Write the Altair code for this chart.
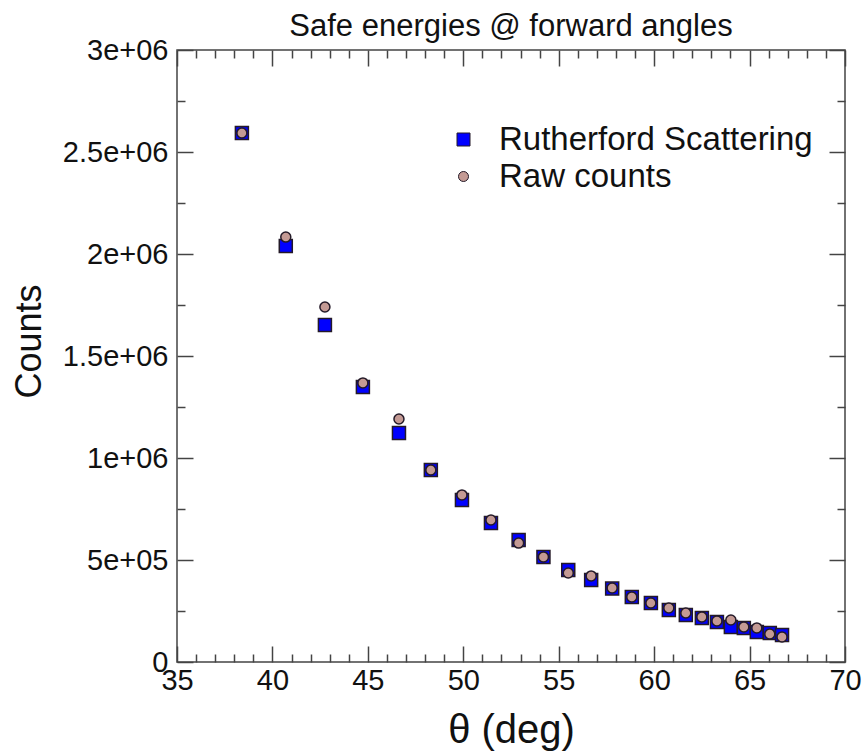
import altair as alt
import pandas as pd

theta = [38.4, 40.7, 42.75, 44.74, 46.63, 48.3, 49.93, 51.45, 52.9, 54.2, 55.5, 56.7,
         57.8, 58.83, 59.83, 60.77, 61.66, 62.5, 63.29, 64.02, 64.7, 65.38, 66.06, 66.7]
rutherford = [2593000, 2039000, 1652000, 1348000, 1123000, 941000, 794000, 681000, 598000,
              515000, 451000, 402000, 360000, 319000, 289000, 255000, 230000, 216000,
              196000, 172000, 167000, 147000, 142000, 132000]
raw_counts = [2593000, 2083000, 1740000, 1368000, 1191000, 941000, 819000, 696000, 583000,
              515000, 436000, 422000, 363000, 319000, 289000, 265000, 240000, 221000,
              201000, 206000, 172000, 167000, 137000, 123000]
series_names = ["Rutherford Scattering", "Raw counts"]
title_text = "Safe energies @ forward angles"
x_ticks_major = [35, 40, 45, 50, 55, 60, 65, 70]
x_ticks_all = list(range(35, 71))
y_ticks_major = [0, 500000, 1000000, 1500000, 2000000, 2500000, 3000000]
y_ticks_all = [i * 250000 for i in range(13)]

rows = []
for name, vals in zip(series_names, [rutherford, raw_counts]):
    for t, v in zip(theta, vals):
        rows.append({"theta": t, "counts": v, "series": name})
df = pd.DataFrame(rows)

W, H = 668, 612
FONT = "Liberation Sans"
XDOM = [35, 70]
YDOM = [0, 3000000]

xscale = alt.Scale(domain=XDOM, nice=False, zero=False)
yscale = alt.Scale(domain=YDOM, nice=False)

label_exprs_y = "datum.value == 0 ? '0' : (datum.value % 1000000 == 0 ? format(datum.value/1000000, 'd') + 'e+06' : (datum.value >= 1000000 ? format(datum.value/1000000, '.1f') + 'e+06' : format(datum.value/100000, 'd') + 'e+05'))"

points = alt.Chart(df).mark_point(filled=True, opacity=1, stroke="#241a28", strokeWidth=1.5).encode(
    x=alt.X("theta:Q", scale=xscale,
            axis=alt.Axis(values=x_ticks_major, ticks=False, domain=False, grid=False,
                          labelFont=FONT, labelFontSize=29, labelColor="#111",
                          labelPadding=4, labelFlush=False,
                          title="θ (deg)", titleFont=FONT, titleFontSize=40,
                          titleFontWeight="normal", titleColor="#111",
                          titleBaseline="alphabetic", titleY=80)),
    y=alt.Y("counts:Q", scale=yscale,
            axis=alt.Axis(values=y_ticks_major, ticks=False, domain=False, grid=False,
                          labelExpr=label_exprs_y,
                          labelFont=FONT, labelFontSize=29, labelColor="#111",
                          labelPadding=9, labelFlush=False,
                          title="Counts", titleFont=FONT, titleFontSize=36,
                          titleFontWeight="normal", titleColor="#111",
                          titleAngle=-90, titleAlign="center", titleBaseline="middle",
                          titleX=-148, titleY=291)),
    color=alt.Color("series:N", scale=alt.Scale(domain=series_names, range=["#0000ff", "#c49a94"]),
                    legend=alt.Legend(title=None, orient="none", legendX=270, legendY=73,
                                      labelFont=FONT, labelFontSize=33, labelColor="#111",
                                      labelOffset=19, labelLimit=0, rowPadding=3,
                                      symbolStrokeColor="#241a28", symbolStrokeWidth=1)),
    shape=alt.Shape("series:N", scale=alt.Scale(domain=series_names, range=["square", "circle"])),
    size=alt.Size("series:N", scale=alt.Scale(domain=series_names, range=[169, 100])),
    order=alt.Order("series:N", sort="descending"),
)

tick_cond_x = {"condition": {"test": "datum.value % 5 === 0", "value": 16}, "value": 8}
tick_cond_y = {"condition": {"test": "datum.value % 500000 === 0", "value": 16}, "value": 8}


def tick_layer(xorient, yorient):
    return alt.Chart(df).mark_point(opacity=0).encode(
        x=alt.X("theta:Q", scale=xscale,
                axis=alt.Axis(orient=xorient, offset=-H, values=x_ticks_all, labels=False,
                              domain=False, grid=False, title=None, tickSize=tick_cond_x,
                              tickColor="#444", tickWidth=1.5)),
        y=alt.Y("counts:Q", scale=yscale,
                axis=alt.Axis(orient=yorient, offset=-W, values=y_ticks_all, labels=False,
                              domain=False, grid=False, title=None, tickSize=tick_cond_y,
                              tickColor="#444", tickWidth=1.5)),
    )


title_layer = alt.Chart(pd.DataFrame({"t": [title_text]})).mark_text(
    font=FONT, fontSize=31, color="#111", align="center", baseline="alphabetic"
).encode(
    x=alt.value(W / 2),
    y=alt.value(-14),
    text="t:N",
)

chart = alt.layer(
    points,
    tick_layer("top", "right"),
    tick_layer("bottom", "left"),
    title_layer,
).resolve_axis(x="independent", y="independent").properties(
    width=W, height=H,
    autosize=alt.AutoSizeParams(type="none"),
    padding={"left": 177, "top": 50, "right": 23, "bottom": 91},
    background="white",
).configure_view(stroke="#444", strokeWidth=1.5)

chart.save("out.html", embed_options={"renderer": "svg", "actions": False})
